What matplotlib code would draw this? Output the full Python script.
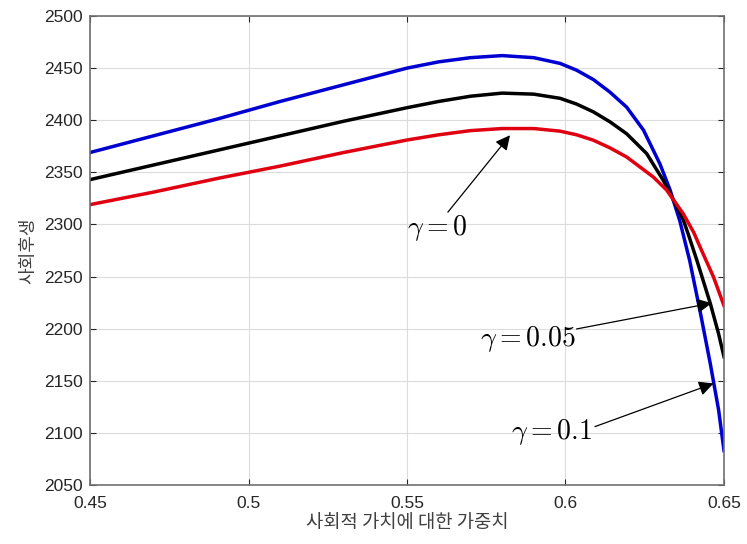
import matplotlib
matplotlib.use("Agg")
import matplotlib.pyplot as plt

plt.rcParams['mathtext.fontset'] = 'cm'
plt.rcParams['font.family'] = ['Liberation Sans', 'Noto Sans CJK KR', 'DejaVu Sans']

# gamma = 0.1 (blue)
x_blue = [0.45, 0.47, 0.49, 0.51, 0.53, 0.55, 0.56, 0.57, 0.58, 0.59, 0.5983,
          0.6035, 0.6088, 0.614, 0.6193, 0.6246, 0.6298, 0.6330, 0.6361,
          0.6392, 0.6425, 0.6457, 0.6483, 0.65]
y_blue = [2369, 2385, 2401, 2418, 2434, 2450, 2456, 2460, 2462, 2460, 2454.5,
          2448, 2439, 2427, 2412.5, 2390.5, 2358, 2333, 2303,
          2265, 2216, 2166, 2122, 2083]

# gamma = 0.05 (black)
x_black = [0.45, 0.47, 0.49, 0.51, 0.53, 0.55, 0.56, 0.57, 0.58, 0.59, 0.5983,
           0.6035, 0.6088, 0.614, 0.6193, 0.6256, 0.6309, 0.6351, 0.6372,
           0.6388, 0.6414, 0.6457, 0.6483, 0.65]
y_black = [2343, 2357, 2371, 2385, 2399, 2412, 2418, 2423, 2426, 2425, 2421,
           2415.5, 2408, 2398.5, 2387, 2368, 2342, 2317, 2304,
           2290, 2266, 2224, 2195, 2173]

# gamma = 0 (red)
x_red = [0.45, 0.47, 0.49, 0.51, 0.53, 0.55, 0.56, 0.57, 0.58, 0.59, 0.5983,
         0.6035, 0.6088, 0.614, 0.6193, 0.6277, 0.6319, 0.6372, 0.6405,
         0.6425, 0.6467, 0.65]
y_red = [2319, 2331, 2344, 2356, 2369, 2381, 2386, 2390, 2392, 2392, 2389.5,
         2386, 2380.8, 2373.5, 2364.7, 2345.5, 2333, 2310, 2292,
         2278, 2249.5, 2222]

xticks = [0.45, 0.5, 0.55, 0.6, 0.65]
xtick_labels = ['0.45', '0.5', '0.55', '0.6', '0.65']
yticks = [2050, 2100, 2150, 2200, 2250, 2300, 2350, 2400, 2450, 2500]

fig = plt.figure(figsize=(7.47, 5.44), dpi=100)
ax = fig.add_axes([0.1205, 0.1085, 0.8487, 0.8621])

ax.plot(x_blue, y_blue, color='#0000d0', lw=2.5, solid_joinstyle='round')
ax.plot(x_black, y_black, color='black', lw=2.5, solid_joinstyle='round')
ax.plot(x_red, y_red, color='#e00010', lw=2.5, solid_joinstyle='round')

ax.set_xlim(0.45, 0.65)
ax.set_ylim(2050, 2500)
ax.set_xticks(xticks)
ax.set_xticklabels(xtick_labels)
ax.set_yticks(yticks)
ax.grid(True, color='#dcdcdc', lw=0.8)
ax.tick_params(direction='in', top=True, right=True, labelsize=12.5,
               colors='#262626', length=4)
ax.tick_params(axis='x', pad=8)
ax.tick_params(axis='y', pad=5)
for s in ax.spines.values():
    s.set_color('#707070')
    s.set_linewidth(1.2)

ax.set_xlabel('사회적 가치에 대한 가중치', fontsize=13.5, color='#404040',
              family=['Noto Sans CJK KR'], labelpad=1)
ax.set_ylabel('사회후생', fontsize=13, color='#404040',
              family=['Noto Sans CJK KR'], labelpad=5)

ap = dict(arrowstyle='-|>', color='black', lw=0.9, mutation_scale=22,
          shrinkA=0, shrinkB=0)
ax.text(0.5595, 2297, r'$\gamma = 0$', fontsize=20, ha='center', va='center')
ax.annotate('', xy=(0.5825, 2385.6), xytext=(0.5629, 2311.8), arrowprops=ap)
ax.text(0.5882, 2190, r'$\gamma = 0.05$', fontsize=20, ha='center', va='center')
ax.annotate('', xy=(0.6461, 2224.5), xytext=(0.6035, 2199.7), arrowprops=ap)
ax.text(0.5957, 2101, r'$\gamma = 0.1$', fontsize=20, ha='center', va='center')
ax.annotate('', xy=(0.6467, 2147.4), xytext=(0.6093, 2106), arrowprops=ap)

fig.savefig('out.png', dpi=100)
